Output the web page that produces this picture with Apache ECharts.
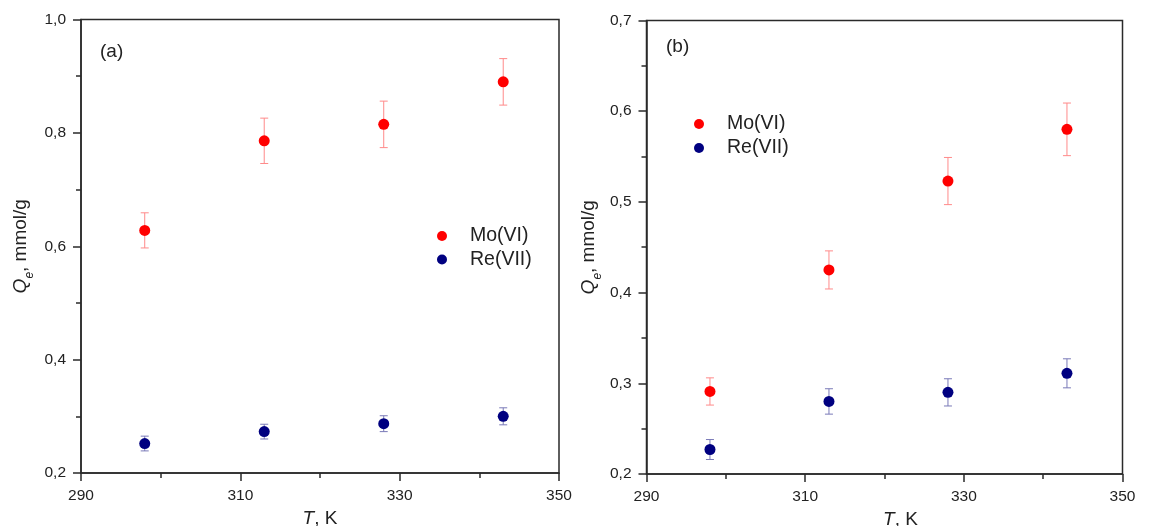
<!DOCTYPE html>
<html>
<head>
<meta charset="utf-8">
<script src="https://cdn.jsdelivr.net/npm/echarts@6/dist/echarts.min.js"></script>
<style>
html,body{margin:0;padding:0;background:#fff;}
#chart{width:1150px;height:526px;}
</style>
</head>
<body>
<div id="chart"></div>
<script>
// ---- data ----
var temps = [298, 313, 328, 343];
var seriesNames = ['Mo(VI)', 'Re(VII)'];
var panelLabels = ['(a)', '(b)'];
var xTicks = [290, 310, 330, 350];
var yTicksA = [0.2, 0.4, 0.6, 0.8, 1.0];
var yTicksB = [0.2, 0.3, 0.4, 0.5, 0.6, 0.7];

var moA = [0.628, 0.786, 0.815, 0.890];
var moAErr = [0.031, 0.040, 0.041, 0.041];
var reA = [0.252, 0.273, 0.287, 0.300];
var reAErr = [0.013, 0.013, 0.014, 0.015];

var moB = [0.291, 0.425, 0.523, 0.580];
var moBErr = [0.015, 0.021, 0.026, 0.029];
var reB = [0.227, 0.280, 0.290, 0.311];
var reBErr = [0.011, 0.014, 0.015, 0.016];

// ---- styles ----
var FONT = '"Liberation Sans", Arial, sans-serif';
var AXIS_COLOR = '#2a2a2a';
var TEXT_COLOR = '#222';
var RED = '#ff0000', NAVY = '#000080';
var RED_ERR = '#ff8a8a', NAVY_ERR = '#7a7ab8';

function pts(xs, ys) { return xs.map(function (x, i) { return [x, ys[i]]; }); }
function errs(xs, ys, es) { return xs.map(function (x, i) { return [x, ys[i] - es[i], ys[i] + es[i]]; }); }

function errRender(color) {
  return function (params, api) {
    var x = api.value(0);
    var lo = api.coord([x, api.value(1)]);
    var hi = api.coord([x, api.value(2)]);
    var w = 4;
    var st = { stroke: color, lineWidth: 1 };
    return {
      type: 'group',
      children: [
        { type: 'line', shape: { x1: lo[0], y1: lo[1], x2: hi[0], y2: hi[1] }, style: st },
        { type: 'line', shape: { x1: lo[0] - w, y1: lo[1], x2: lo[0] + w, y2: lo[1] }, style: st },
        { type: 'line', shape: { x1: hi[0] - w, y1: hi[1], x2: hi[0] + w, y2: hi[1] }, style: st }
      ]
    };
  };
}

function fmtComma(v) { return Number(v).toFixed(1).replace('.', ','); }

function xAxisDef(gridIndex, padLeft) {
  return {
    type: 'value', gridIndex: gridIndex, min: xTicks[0], max: xTicks[xTicks.length - 1],
    interval: xTicks[1] - xTicks[0],
    name: '{i|T}, K', nameLocation: 'middle', nameGap: 33,
    nameTextStyle: {
      fontFamily: FONT, fontSize: 19, color: TEXT_COLOR, padding: [0, 0, 0, padLeft],
      rich: { i: { fontStyle: 'italic', fontFamily: FONT, fontSize: 19, color: TEXT_COLOR } }
    },
    axisLine: { onZero: false, lineStyle: { color: AXIS_COLOR, width: 1.5 } },
    axisTick: { inside: false, length: 8, lineStyle: { color: AXIS_COLOR, width: 1.5 } },
    minorTick: { show: true, splitNumber: 2, length: 5, lineStyle: { color: AXIS_COLOR, width: 1.5 } },
    axisLabel: { fontFamily: FONT, fontSize: 15.5, color: TEXT_COLOR, margin: 15 },
    splitLine: { show: false }
  };
}

function yAxisDef(gridIndex, ticks, gap) {
  return {
    type: 'value', gridIndex: gridIndex, min: ticks[0], max: ticks[ticks.length - 1],
    interval: Math.round((ticks[1] - ticks[0]) * 10) / 10,
    name: '{q|Q}{s|e}, mmol/g', nameLocation: 'middle', nameGap: gap,
    nameTextStyle: {
      fontFamily: FONT, fontSize: 19, color: TEXT_COLOR, lineHeight: 22,
      rich: {
        q: { fontStyle: 'italic', fontFamily: FONT, fontSize: 19, color: TEXT_COLOR, lineHeight: 22 },
        s: { fontStyle: 'italic', fontFamily: FONT, fontSize: 12, color: TEXT_COLOR, verticalAlign: 'bottom', lineHeight: 22, padding: [0, 0, -4, 0] }
      }
    },
    axisLine: { onZero: false, lineStyle: { color: AXIS_COLOR, width: 1.5 } },
    axisTick: { inside: false, length: 8, lineStyle: { color: AXIS_COLOR, width: 1.5 } },
    minorTick: { show: true, splitNumber: 2, length: 5, lineStyle: { color: AXIS_COLOR, width: 1.5 } },
    axisLabel: { fontFamily: FONT, fontSize: 15.5, color: TEXT_COLOR, margin: 15, formatter: fmtComma },
    splitLine: { show: false }
  };
}

function legendDef(left, top, gap) {
  return {
    data: seriesNames, orient: 'vertical', left: left, top: top,
    icon: 'circle', itemWidth: 10, itemHeight: 10, itemGap: gap, padding: 0,
    selectedMode: false,
    textStyle: { fontFamily: FONT, fontSize: 19.5, color: TEXT_COLOR, lineHeight: 20, padding: [0, 0, 0, 18] }
  };
}

var option = {
  backgroundColor: '#ffffff',
  animation: false,
  title: [
    { text: panelLabels[0], left: 100, top: 42, padding: 0,
      textStyle: { fontFamily: FONT, fontSize: 19, fontWeight: 'normal', color: TEXT_COLOR, lineHeight: 20 } },
    { text: panelLabels[1], left: 666, top: 37, padding: 0,
      textStyle: { fontFamily: FONT, fontSize: 19, fontWeight: 'normal', color: TEXT_COLOR, lineHeight: 20 } }
  ],
  legend: [legendDef(437, 226, 3.5), legendDef(694, 114, 4)],
  grid: [
    { left: 81, right: 591, top: 19.5, bottom: 53, show: true, borderColor: AXIS_COLOR, borderWidth: 1.5,
      backgroundColor: 'transparent', outerBoundsMode: 'none', containLabel: false },
    { left: 646.5, right: 27.5, top: 20.5, bottom: 52, show: true, borderColor: AXIS_COLOR, borderWidth: 1.5,
      backgroundColor: 'transparent', outerBoundsMode: 'none', containLabel: false }
  ],
  xAxis: [xAxisDef(0, 0), xAxisDef(1, 32)],
  yAxis: [yAxisDef(0, yTicksA, 49), yAxisDef(1, yTicksB, 47)],
  series: [
    { name: seriesNames[0], type: 'scatter', xAxisIndex: 0, yAxisIndex: 0, symbol: 'circle', symbolSize: 11, z: 3,
      itemStyle: { color: RED, opacity: 1 }, data: pts(temps, moA) },
    { name: seriesNames[1], type: 'scatter', xAxisIndex: 0, yAxisIndex: 0, symbol: 'circle', symbolSize: 11, z: 3,
      itemStyle: { color: NAVY, opacity: 1 }, data: pts(temps, reA) },
    { name: seriesNames[0], type: 'scatter', xAxisIndex: 1, yAxisIndex: 1, symbol: 'circle', symbolSize: 11, z: 3,
      itemStyle: { color: RED, opacity: 1 }, data: pts(temps, moB) },
    { name: seriesNames[1], type: 'scatter', xAxisIndex: 1, yAxisIndex: 1, symbol: 'circle', symbolSize: 11, z: 3,
      itemStyle: { color: NAVY, opacity: 1 }, data: pts(temps, reB) },
    { name: 'Mo(VI) error a', type: 'custom', xAxisIndex: 0, yAxisIndex: 0, z: 2,
      renderItem: errRender(RED_ERR), encode: { x: 0, y: [1, 2] }, data: errs(temps, moA, moAErr) },
    { name: 'Re(VII) error a', type: 'custom', xAxisIndex: 0, yAxisIndex: 0, z: 2,
      renderItem: errRender(NAVY_ERR), encode: { x: 0, y: [1, 2] }, data: errs(temps, reA, reAErr) },
    { name: 'Mo(VI) error b', type: 'custom', xAxisIndex: 1, yAxisIndex: 1, z: 2,
      renderItem: errRender(RED_ERR), encode: { x: 0, y: [1, 2] }, data: errs(temps, moB, moBErr) },
    { name: 'Re(VII) error b', type: 'custom', xAxisIndex: 1, yAxisIndex: 1, z: 2,
      renderItem: errRender(NAVY_ERR), encode: { x: 0, y: [1, 2] }, data: errs(temps, reB, reBErr) }
  ]
};

var chart = echarts.init(document.getElementById('chart'), null, { renderer: 'canvas' });
chart.setOption(option);
</script>
</body>
</html>
